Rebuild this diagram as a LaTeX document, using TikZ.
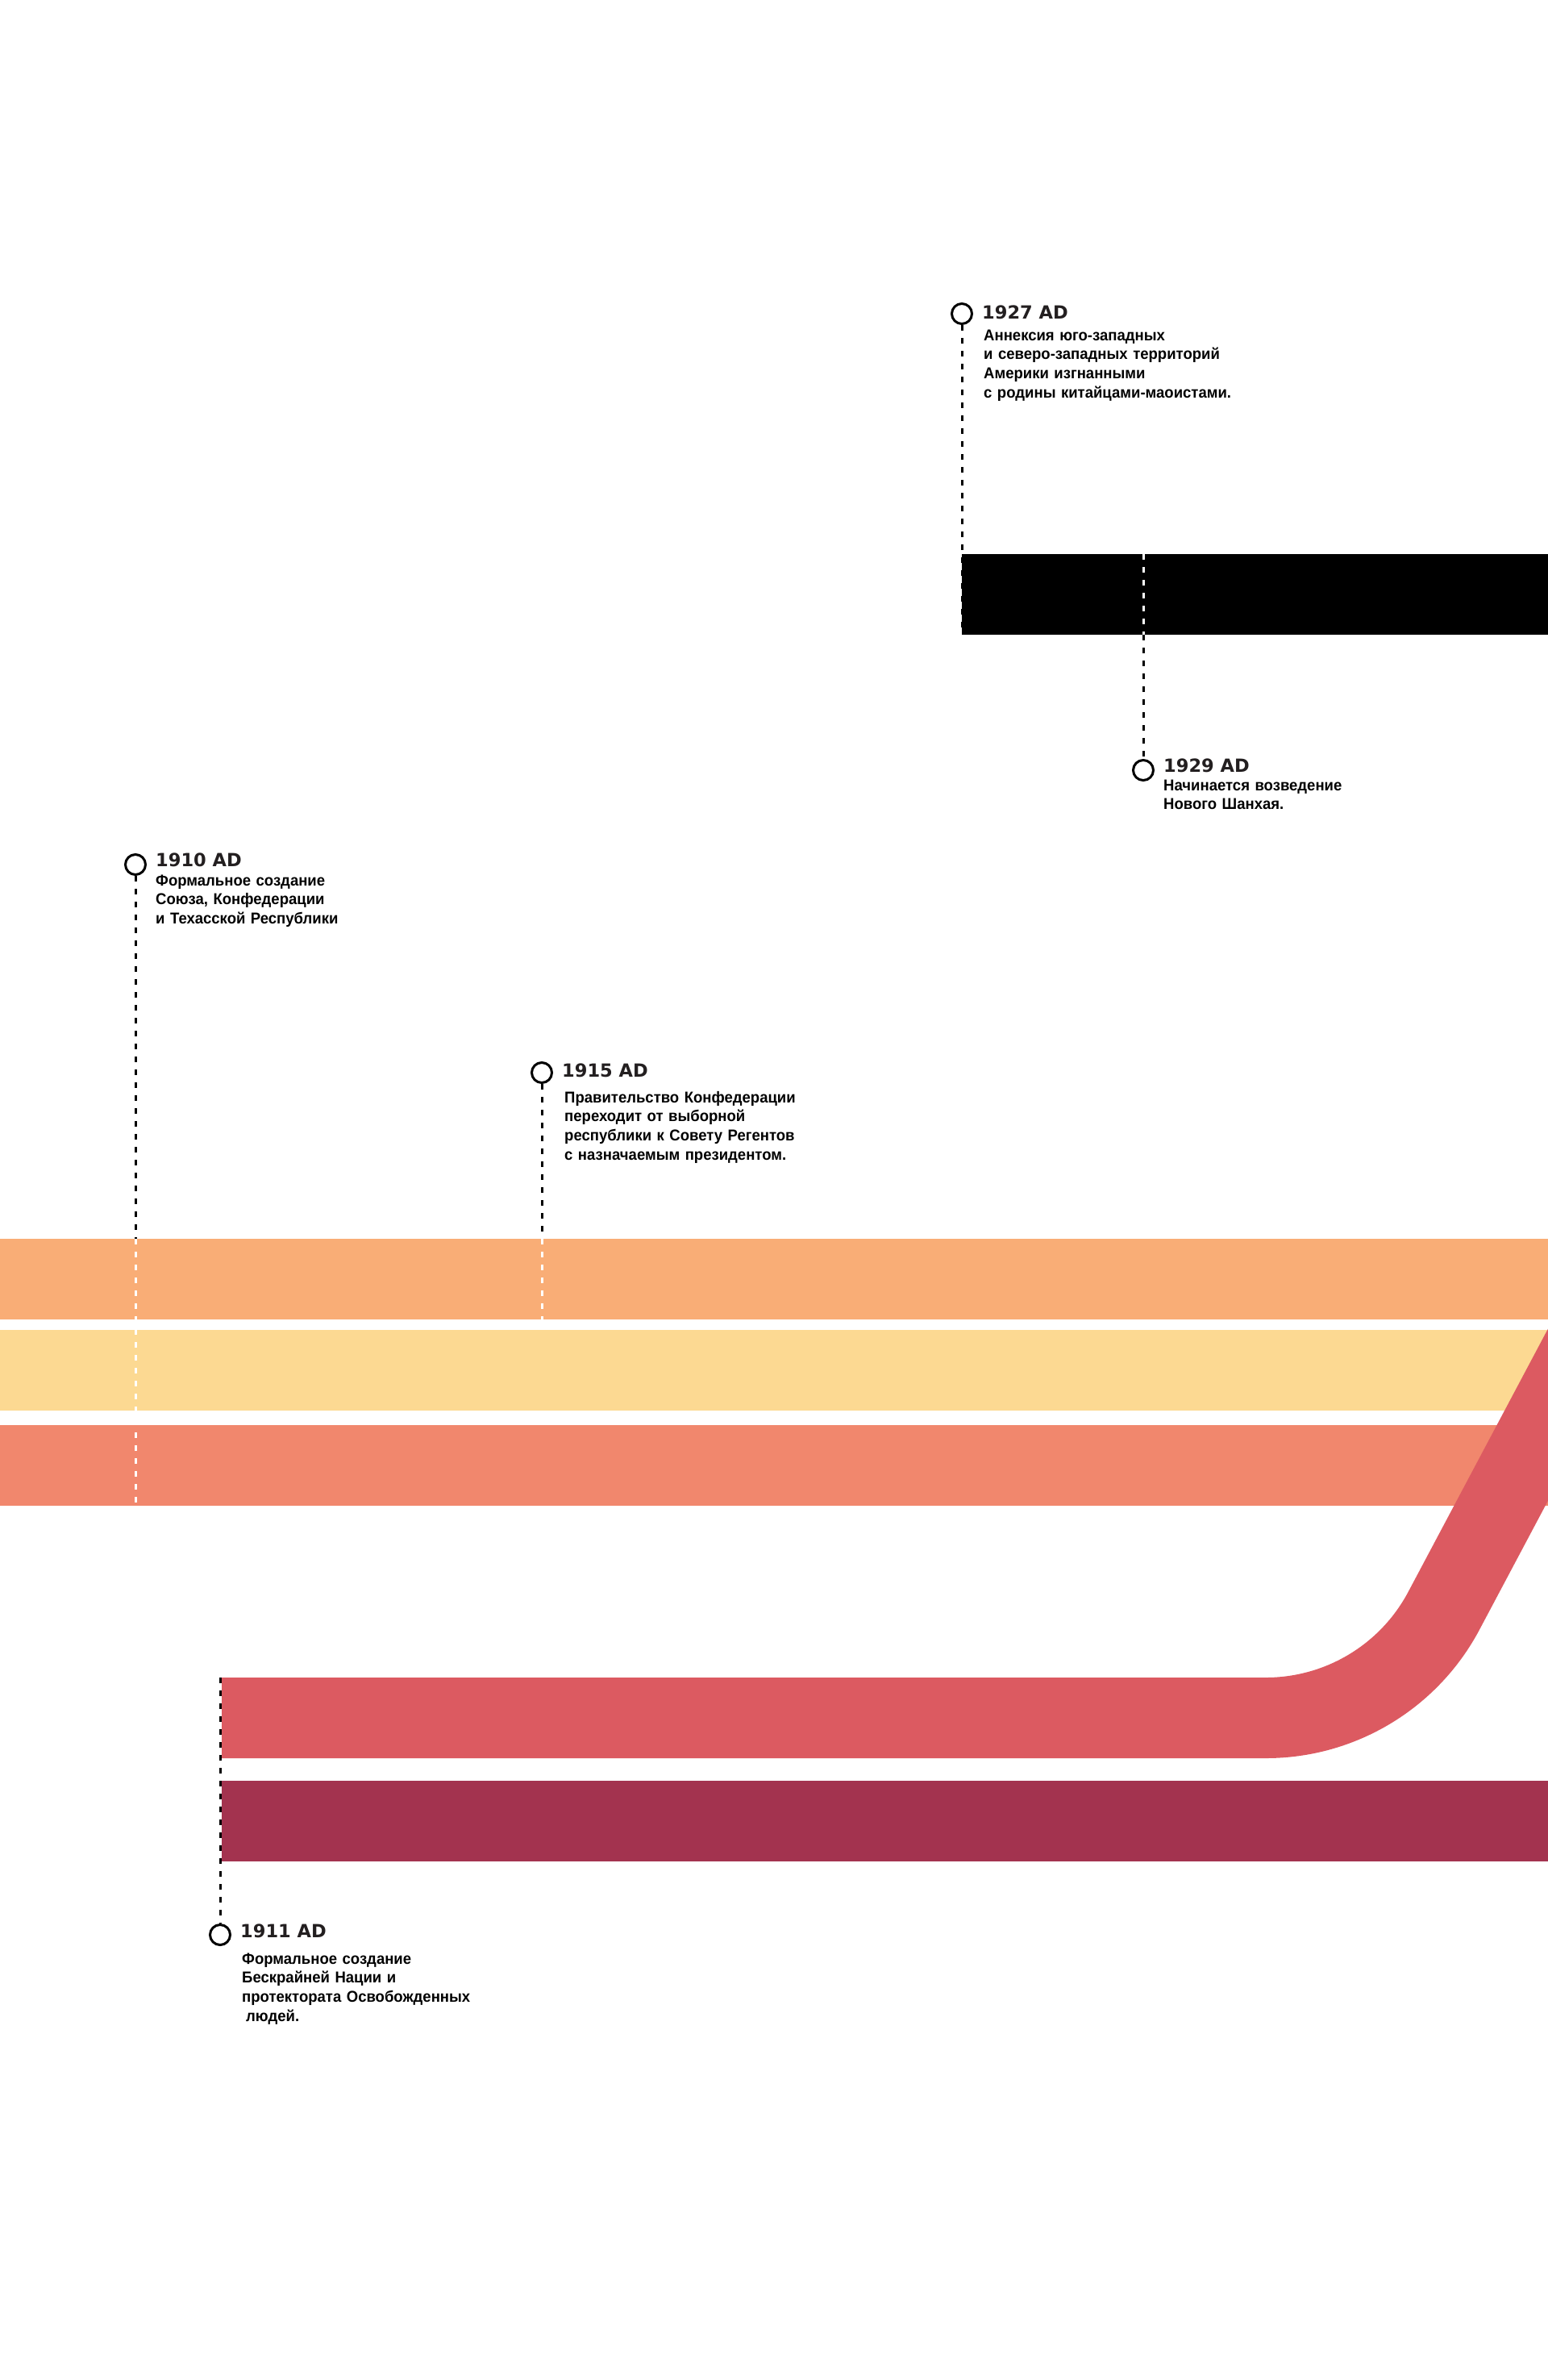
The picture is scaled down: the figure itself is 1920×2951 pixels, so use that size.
\documentclass[tikz,border=0pt]{standalone}
\usepackage{fontspec}
\setmainfont{Liberation Sans}
\newfontfamily\yearfont{DejaVu Sans}
\newfontfamily\notefont[FakeStretch=0.95]{Liberation Sans}
\definecolor{bandorange}{HTML}{F9AD76}
\definecolor{bandyellow}{HTML}{FCD992}
\definecolor{bandsalmon}{HTML}{F1876D}
\definecolor{bandred}{HTML}{DC5A61}
\definecolor{bandwine}{HTML}{A3334F}
\definecolor{inkgray}{HTML}{231F20}
\tikzset{
  ring/.style={circle,draw=black,line width=3pt,fill=white,minimum size=25pt,inner sep=0pt},
  yeartag/.style={anchor=base west,inner sep=0pt,text=inkgray,font=\yearfont\bfseries\fontsize{22.5pt}{22.5pt}\selectfont},
  eventnote/.style={anchor=base west,inner sep=0pt,text width=420pt,align=left,text=black,font=\notefont\bfseries\fontsize{19.5pt}{23.8pt}\selectfont},
  stem/.style={line width=3pt,dash pattern=on 7pt off 9pt},
}
\begin{document}
\begin{tikzpicture}[x=1pt,y=-1pt]
\useasboundingbox (0,0) rectangle (1920,2951);
\clip (0,0) rectangle (1920,2951);
\fill[white] (0,0) rectangle (1920,2951);
\fill[black] (1193,687) rectangle (1920,787);
\fill[bandorange] (0,1536) rectangle (1920,1636);
\fill[bandyellow] (0,1649) rectangle (1920,1749);
\fill[bandsalmon] (0,1767) rectangle (1920,1867);
\draw[line width=100pt,bandred] (275,2130) -- (1570,2130) arc[start angle=90,end angle=28,radius=250] -- ++(220,-414);
\fill[bandwine] (275,2208) rectangle (1920,2308);
\node[ring] (r1927) at (1193,389) {};
\node[yeartag] (t1927) at (1218,395) {1927 AD};
\node[eventnote] (n1927) at (1220,422) {Аннексия юго-западных\\и северо-западных территорий\\Америки изгнанными\\с родины китайцами-маоистами.};
\coordinate (e1927) at (1193,787);
\draw[stem,black] (r1927.south) -- (e1927);
\node[ring] (r1929) at (1418,955) {};
\node[yeartag] (t1929) at (1443,957) {1929 AD};
\node[eventnote] (n1929) at (1443,980) {Начинается возведение\\Нового Шанхая.};
\coordinate (a1929) at (1418,687);
\coordinate (b1929) at (1418,787);
\draw[stem,white] (a1929) -- (b1929);
\draw[stem,black] (b1929) -- (r1929.north);
\node[ring] (r1910) at (168,1072) {};
\node[yeartag] (t1910) at (193,1074) {1910 AD};
\node[eventnote] (n1910) at (193,1098) {Формальное создание\\Союза, Конфедерации\\и Техасской Республики};
\coordinate (a1910) at (168,1536);
\coordinate (b1910) at (168,1867);
\draw[stem,black] (r1910.south) -- (a1910);
\draw[stem,white] (a1910) -- (b1910);
\node[ring] (r1915) at (672,1330) {};
\node[yeartag] (t1915) at (697,1335) {1915 AD};
\node[eventnote] (n1915) at (700,1367) {Правительство Конфедерации\\переходит от выборной\\республики к Совету Регентов\\с назначаемым президентом.};
\coordinate (a1915) at (672,1536);
\coordinate (b1915) at (672,1636);
\draw[stem,black] (r1915.south) -- (a1915);
\draw[stem,white] (a1915) -- (b1915);
\node[ring] (r1911) at (273,2399) {};
\node[yeartag] (t1911) at (298,2402) {1911 AD};
\node[eventnote] (n1911) at (300,2435) {Формальное создание\\Бескрайней Нации и\\протектората Освобожденных\\\hspace*{5pt}людей.};
\coordinate (a1911) at (273,2080);
\draw[stem,black] (a1911) -- (r1911.north);
\end{tikzpicture}
\end{document}
